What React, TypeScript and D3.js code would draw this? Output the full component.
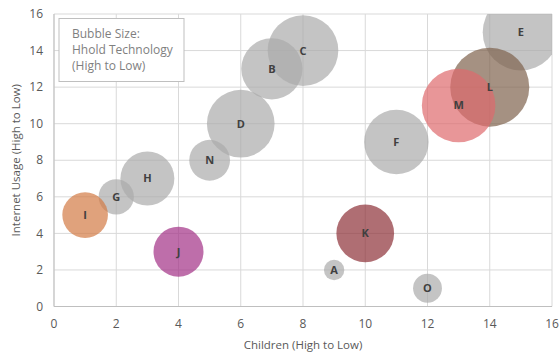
import React from "react";
import * as d3 from "d3";

const labels = ["A", "B", "C", "D", "E", "F", "G", "H", "I", "J", "K", "L", "M", "N", "O"];
const children = [9, 7, 8, 6, 15, 11, 2, 3, 1, 4, 10, 14, 13, 5, 12];
const internet = [2, 13, 14, 10, 15, 9, 6, 7, 5, 3, 4, 12, 11, 8, 1];
const technology = [1, 9, 12, 11, 14, 10, 3, 7, 5, 6, 8, 15, 13, 4, 2];
const colors = [
  "#ababab", "#ababab", "#ababab", "#ababab", "#ababab", "#ababab", "#ababab", "#ababab",
  "#d37a44", "#a33086", "#8d3037", "#7f624d", "#de696c", "#ababab", "#ababab",
];
const xTicks = [0, 2, 4, 6, 8, 10, 12, 14, 16];
const yTicks = [0, 2, 4, 6, 8, 10, 12, 14, 16];
const legendLines = ["Bubble Size:", "Hhold Technology", "(High to Low)"];

const W = 560;
const H = 355;
const left = 54;
const right = 552;
const top = 14;
const bottom = 306.5;
const font = "'Open Sans', 'Noto Sans', sans-serif";

export default function App() {
  const x = d3.scaleLinear().domain([0, 16]).range([left, right]);
  const y = d3.scaleLinear().domain([0, 16]).range([bottom, top]);
  const r = d3.scaleSqrt().domain([0, d3.max(technology) as number]).range([0, 39.5]);

  const data = labels.map((l, i) => ({
    label: l,
    x: children[i],
    y: internet[i],
    s: technology[i],
    c: colors[i],
  }));

  return (
    <svg
      width={W}
      height={H}
      style={{ position: "absolute", left: 0, top: 0, background: "#fff" }}
      fontFamily={font}
    >
      <defs>
        <clipPath id="plot">
          <rect x={left} y={top} width={right - left} height={bottom - top} />
        </clipPath>
      </defs>
      <rect x={0} y={0} width={W} height={H} fill="#fff" />
      {xTicks.map((t) => (
        <line key={"gx" + t} x1={x(t)} x2={x(t)} y1={top} y2={bottom} stroke="#d9d9d9" strokeWidth={1} />
      ))}
      {yTicks.map((t) => (
        <line key={"gy" + t} x1={left} x2={right} y1={y(t)} y2={y(t)} stroke="#d9d9d9" strokeWidth={1} />
      ))}
      <line x1={left} x2={left} y1={top} y2={bottom} stroke="#bfbfbf" strokeWidth={1} />
      <line x1={left} x2={right} y1={bottom} y2={bottom} stroke="#bfbfbf" strokeWidth={1} />
      <g clipPath="url(#plot)">
        {data.map((d) => (
          <circle key={d.label} cx={x(d.x)} cy={y(d.y)} r={r(d.s)} fill={d.c} fillOpacity={0.7} />
        ))}
      </g>
      {data.map((d) => (
        <text
          key={"t" + d.label}
          x={x(d.x)}
          y={y(d.y)}
          dy="0.36em"
          textAnchor="middle"
          fontSize={11}
          fontWeight="bold"
          fill="#404040"
        >
          {d.label}
        </text>
      ))}
      {xTicks.map((t) => (
        <text key={"xt" + t} x={x(t)} y={323.5} dy="0.35em" textAnchor="middle" fontSize={12} fill="#595959">
          {t}
        </text>
      ))}
      {yTicks.map((t) => (
        <text key={"yt" + t} x={43} y={y(t)} dy="0.35em" textAnchor="end" fontSize={12} fill="#595959">
          {t}
        </text>
      ))}
      <text x={303} y={345} dy="0.35em" textAnchor="middle" fontSize={11.5} fill="#595959">
        Children (High to Low)
      </text>
      <text
        transform={`translate(16,${(top + bottom) / 2}) rotate(-90)`}
        dy="0.35em"
        textAnchor="middle"
        fontSize={11.5}
        fill="#595959"
      >
        Internet Usage (High to Low)
      </text>
      <rect x={59} y={18.5} width={125} height={63} fill="#fff" stroke="#bfbfbf" strokeWidth={1} />
      {legendLines.map((l, i) => (
        <text key={"lg" + i} x={72} y={34 + i * 16} dy="0.35em" fontSize={12} fill="#7f7f7f">
          {l}
        </text>
      ))}
    </svg>
  );
}
